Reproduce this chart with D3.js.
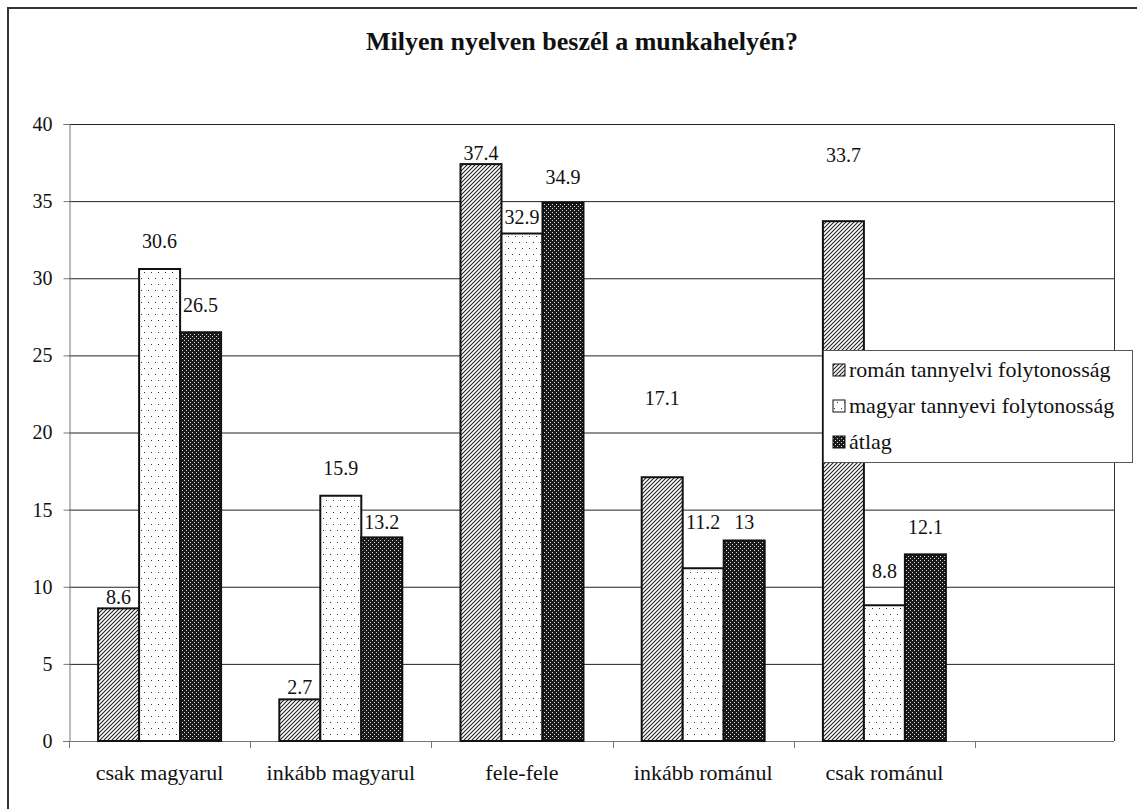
<!DOCTYPE html>
<html>
<head>
<meta charset="utf-8">
<script src="https://cdn.jsdelivr.net/npm/d3@7"></script>
<style>
  html, body { margin: 0; padding: 0; background: #fff; }
  svg { display: block; }
  svg text { font-family: "Liberation Serif", "Times New Roman", Times, "DejaVu Serif", serif; fill: #111; }
</style>
</head>
<body>
<svg id="chart" width="1137" height="809"></svg>
<script>
// ---- data ----
const categories = ["csak magyarul", "inkább magyarul", "fele-fele", "inkább románul", "csak románul"];
const seriesNames = ["román tannyelvi folytonosság", "magyar tannyevi folytonosság", "átlag"];
const romanValues  = [8.6, 2.7, 37.4, 17.1, 33.7];
const magyarValues = [30.6, 15.9, 32.9, 11.2, 8.8];
const atlagValues  = [26.5, 13.2, 34.9, 13, 12.1];
const yTicks = [0, 5, 10, 15, 20, 25, 30, 35, 40];

// ---- layout ----
const FONT = "'Liberation Serif', 'Times New Roman', Times, 'DejaVu Serif', serif";
const NUM_SIZE = 20;   // numbers: axis ticks and value labels
const TEXT_SIZE = 22;  // category and legend text
const plot = { left: 69, top: 124, right: 1114, bottom: 741, catRight: 975 };
// distance (px) from each bar top up to the centre of its value label, per category
const labelRise = [
  [11, 28, 27],
  [12, 28, 15],
  [11, 17, 26],
  [79, 46, 18],
  [66, 34, 27]
];

const series = [romanValues, magyarValues, atlagValues];
const svg = d3.select("#chart").attr("font-family", FONT);
const defs = svg.append("defs");

// hatched fill: fine diagonal strokes
const ph = defs.append("pattern").attr("id", "hatch").attr("patternUnits", "userSpaceOnUse")
  .attr("width", 4).attr("height", 4);
ph.append("rect").attr("width", 4).attr("height", 4).attr("fill", "#fff");
ph.append("path").attr("d", "M-1,1 L1,-1 M0,4 L4,0 M3,5 L5,3")
  .attr("stroke", "#222").attr("stroke-width", 1.1);

// sparse dots
const pd = defs.append("pattern").attr("id", "dots").attr("patternUnits", "userSpaceOnUse")
  .attr("width", 7).attr("height", 12);
pd.append("rect").attr("width", 7).attr("height", 12).attr("fill", "#fff");
pd.append("rect").attr("x", 1).attr("y", 2).attr("width", 1).attr("height", 1).attr("fill", "#333");
pd.append("rect").attr("x", 4).attr("y", 8).attr("width", 1).attr("height", 1).attr("fill", "#333");

// dark fill with light speckles
const pk = defs.append("pattern").attr("id", "dark").attr("patternUnits", "userSpaceOnUse")
  .attr("width", 4).attr("height", 4);
pk.append("rect").attr("width", 4).attr("height", 4).attr("fill", "#1a1a1a");
pk.append("rect").attr("x", 0).attr("y", 0).attr("width", 1).attr("height", 1).attr("fill", "#ddd");
pk.append("rect").attr("x", 2).attr("y", 2).attr("width", 1).attr("height", 1).attr("fill", "#ddd");

const fills = ["url(#hatch)", "url(#dots)", "url(#dark)"];

// outer frame
svg.append("path").attr("d", "M8,809 L8,8 L1137,8")
  .attr("fill", "none").attr("stroke", "#333").attr("stroke-width", 2);

// title
svg.append("text").attr("x", 582).attr("y", 50).attr("text-anchor", "middle")
  .attr("font-family", FONT)
  .attr("font-size", 26).attr("font-weight", "bold")
  .text("Milyen nyelven beszél a munkahelyén?");

// scales
const y = d3.scaleLinear().domain([0, 40]).range([plot.bottom, plot.top]);
const x0 = d3.scaleBand().domain(categories).range([plot.left, plot.catRight]).padding(0);
const x1 = d3.scaleBand().domain(d3.range(series.length)).range([0, x0.bandwidth()])
  .paddingInner(0).paddingOuter(0.71);

// gridlines
svg.append("g").selectAll("line").data(yTicks.filter(t => t > 0)).join("line")
  .attr("x1", plot.left).attr("x2", plot.right)
  .attr("y1", d => y(d) + 0.5).attr("y2", d => y(d) + 0.5)
  .attr("stroke", "#222").attr("stroke-width", 1);

// right border of plot
svg.append("line").attr("x1", plot.right + 0.5).attr("x2", plot.right + 0.5)
  .attr("y1", plot.top).attr("y2", plot.bottom).attr("stroke", "#333");

// y axis
const yAxis = svg.append("g").attr("transform", `translate(${plot.left + 0.5},0)`)
  .call(d3.axisLeft(y).tickValues(yTicks).tickSize(6).tickPadding(11).tickFormat(d3.format("d")));
yAxis.attr("font-family", FONT).attr("font-size", NUM_SIZE);
yAxis.select(".domain").attr("stroke", "#777");
yAxis.selectAll(".tick line").attr("stroke", "#777");
yAxis.selectAll("text").attr("font-size", NUM_SIZE).attr("font-family", FONT).attr("fill", "#111");

// x axis: line with ticks on category boundaries
const xg = svg.append("g");
xg.append("line").attr("x1", plot.left - 6).attr("x2", plot.right)
  .attr("y1", plot.bottom + 0.5).attr("y2", plot.bottom + 0.5).attr("stroke", "#777");
const bounds = categories.map(c => x0(c)).concat([x0(categories[categories.length - 1]) + x0.bandwidth()]);
xg.selectAll("line.t").data(bounds).join("line").attr("class", "t")
  .attr("x1", d => Math.round(d) + 0.5).attr("x2", d => Math.round(d) + 0.5)
  .attr("y1", plot.bottom).attr("y2", plot.bottom + 7).attr("stroke", "#777");
xg.selectAll("text").data(categories).join("text")
  .attr("x", d => x0(d) + x0.bandwidth() / 2).attr("y", 780)
  .attr("text-anchor", "middle").attr("font-size", TEXT_SIZE).attr("font-family", FONT).text(d => d);

// bars
const rows = [];
categories.forEach((c, ci) => series.forEach((vals, si) => rows.push({ c, ci, si, v: vals[ci] })));

svg.append("g").selectAll("rect").data(rows).join("rect")
  .attr("x", d => x0(d.c) + x1(d.si))
  .attr("y", d => y(d.v))
  .attr("width", x1.bandwidth())
  .attr("height", d => y(0) - y(d.v))
  .attr("fill", d => fills[d.si])
  .attr("stroke", "#111").attr("stroke-width", 2);

// value labels
const lab = svg.append("g").selectAll("g").data(rows).join("g")
  .attr("transform", d => `translate(${x0(d.c) + x1(d.si) + x1.bandwidth() / 2},${y(d.v) - labelRise[d.ci][d.si]})`);
lab.filter(d => d.ci === 2 && d.si === 1).append("rect")
  .attr("x", -19).attr("y", -11).attr("width", 38).attr("height", 22).attr("fill", "#fff");
lab.append("text").attr("text-anchor", "middle").attr("dy", "0.35em")
  .attr("font-size", NUM_SIZE).attr("font-family", FONT).text(d => String(d.v));

// legend
const lg = svg.append("g").attr("transform", "translate(823,350)");
lg.append("rect").attr("x", 0.5).attr("y", 0.5).attr("width", 309).attr("height", 112)
  .attr("fill", "#fff").attr("stroke", "#555").attr("stroke-width", 1);
const items = lg.selectAll("g").data(seriesNames).join("g")
  .attr("transform", (d, i) => `translate(10,${20 + i * 36})`);
items.append("rect").attr("x", 0).attr("y", -6).attr("width", 12).attr("height", 12)
  .attr("fill", (d, i) => fills[i]).attr("stroke", "#111").attr("stroke-width", 1);
items.append("text").attr("x", 16).attr("y", 0).attr("dy", "0.32em")
  .attr("font-size", TEXT_SIZE).attr("font-family", FONT).text(d => d);
</script>
</body>
</html>
